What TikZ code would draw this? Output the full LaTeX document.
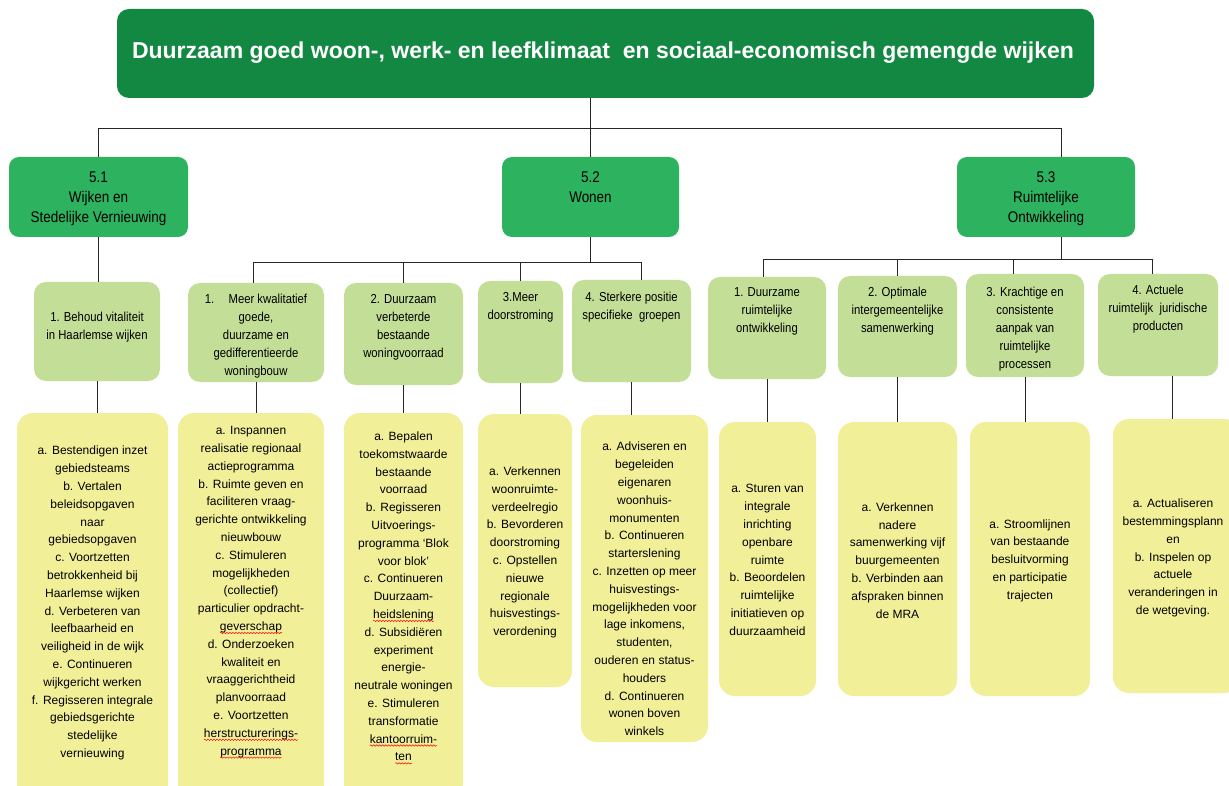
\documentclass[tikz,border=0pt]{standalone}
\usepackage{fontspec}
\setmainfont{Liberation Sans}
\newfontfamily\narrowsans[FakeStretch=0.87]{Liberation Sans}
\usepackage{tikz}
\usetikzlibrary{positioning}
\usetikzlibrary{decorations.pathmorphing}

\definecolor{topgreen}{RGB}{19,136,67}
\definecolor{subgreen}{RGB}{45,179,95}
\definecolor{goalgreen}{RGB}{195,222,151}
\definecolor{actyellow}{RGB}{242,239,153}

\newcommand{\spellwave}[1]{\tikz[baseline=(sw.base)]{\node[inner sep=0pt, outer sep=0pt] (sw) {#1};
    \draw[red, line width=0.5pt, decorate, decoration={snake, amplitude=0.7pt, segment length=3pt}]
        ([yshift=-2.5pt]sw.base west) -- ([yshift=-2.5pt]sw.base east);}}

\begin{document}
\begin{tikzpicture}[x=1pt,y=-1pt,
    conn/.style={draw=black!85, line width=0.8pt},
    topbox/.style={fill=topgreen, rounded corners=12pt, inner sep=0pt},
    subbox/.style={fill=subgreen, rounded corners=10pt, inner sep=0pt},
    goalbox/.style={fill=goalgreen, rounded corners=12pt, inner sep=0pt},
    actbox/.style={fill=actyellow, rounded corners=16pt, inner sep=0pt},
    toptxt/.style={text=white, inner sep=0pt, font=\fontsize{23}{27}\selectfont\bfseries},
    subtxt/.style={align=center, inner sep=0pt, font=\narrowsans\fontsize{15.5}{20}\selectfont},
    goaltxt/.style={align=center, inner sep=0pt, font=\narrowsans\fontsize{13}{18}\selectfont},
    acttxt/.style={align=center, inner sep=0pt, font=\fontsize{12}{17.8}\selectfont}]

            % Page
            \useasboundingbox (0,0) rectangle (1229,786);
            \clip (0,0) rectangle (1229,786);
            \fill[white] (0,0) rectangle (1229,786);

            % Top box
            \node[topbox, minimum width=977pt, minimum height=89pt] (top) at (605.5,53.5) {};
            \node[toptxt] (toptext) at (603,53) {Duurzaam goed woon-, werk- en leefklimaat~ en sociaal-economisch gemengde wijken};

            % Themes
            \node[subbox, minimum width=179pt, minimum height=80pt] (sub51) at (98.5,197) {};
            \node[subbox, minimum width=177pt, minimum height=80pt] (sub52) at (590.5,197) {};
            \node[subbox, minimum width=178pt, minimum height=80pt] (sub53) at (1046,197) {};
            \node[subtxt, below=15pt of sub51.north] (sub51txt) {5.1\\Wijken en\\Stedelijke Vernieuwing};
            \node[subtxt, below=15pt of sub52.north] (sub52txt) {5.2\\Wonen};
            \node[subtxt, below=15pt of sub53.north] (sub53txt) {5.3\\Ruimtelijke\\Ontwikkeling};

            % Goals
            \node[goalbox, minimum width=126pt, minimum height=99pt] (w1) at (97,331.5) {};
            \node[goalbox, minimum width=136pt, minimum height=99pt] (wo1) at (256,332.5) {};
            \node[goalbox, minimum width=119pt, minimum height=102pt] (wo2) at (403.5,334) {};
            \node[goalbox, minimum width=85pt, minimum height=102pt] (wo3) at (520.5,332) {};
            \node[goalbox, minimum width=119pt, minimum height=102pt] (wo4) at (631.5,331) {};
            \node[goalbox, minimum width=118pt, minimum height=102pt] (ro1) at (767,328) {};
            \node[goalbox, minimum width=119pt, minimum height=101pt] (ro2) at (897.5,326.5) {};
            \node[goalbox, minimum width=118pt, minimum height=103pt] (ro3) at (1025,325.5) {};
            \node[goalbox, minimum width=120pt, minimum height=102pt] (ro4) at (1158,325) {};

            \node[goaltxt, below=30pt of w1.north] (w1txt) {1. Behoud vitaliteit\\in Haarlemse wijken};
            \node[goaltxt, below=11pt of wo1.north] (wo1txt) {1.\hspace{1.1em}Meer kwalitatief\\goede,\\duurzame en\\gedifferentieerde\\woningbouw};
            \node[goaltxt, below=11pt of wo2.north] (wo2txt) {2. Duurzaam\\verbeterde\\bestaande\\woningvoorraad};
            \node[goaltxt, below=11pt of wo3.north] (wo3txt) {3.Meer\\doorstroming};
            \node[goaltxt, below=12pt of wo4.north] (wo4txt) {4. Sterkere positie\\specifieke~ groepen};
            \node[goaltxt, below=11pt of ro1.north] (ro1txt) {1. Duurzame\\ruimtelijke\\ontwikkeling};
            \node[goaltxt, below=11pt of ro2.north] (ro2txt) {2. Optimale\\intergemeentelijke\\samenwerking};
            \node[goaltxt, below=13pt of ro3.north] (ro3txt) {3. Krachtige en\\consistente\\aanpak van\\ruimtelijke\\processen};
            \node[goaltxt, below=11pt of ro4.north] (ro4txt) {4. Actuele\\ruimtelijk~ juridische\\producten};

            % Actions
            \node[actbox, minimum width=151pt, minimum height=387pt] (actw1) at (92.5,606.5) {};
            \node[actbox, minimum width=146pt, minimum height=387pt] (actwo1) at (251,606.5) {};
            \node[actbox, minimum width=119pt, minimum height=387pt] (actwo2) at (403.5,606.5) {};
            \node[actbox, minimum width=94pt, minimum height=273pt] (actwo3) at (525,550.5) {};
            \node[actbox, minimum width=127pt, minimum height=327pt] (actwo4) at (644.5,578.5) {};
            \node[actbox, minimum width=97pt, minimum height=274pt] (actro1) at (767.5,559) {};
            \node[actbox, minimum width=119pt, minimum height=274pt] (actro2) at (897.5,559) {};
            \node[actbox, minimum width=120pt, minimum height=274pt] (actro3) at (1030,559) {};
            \node[actbox, minimum width=127pt, minimum height=274pt] (actro4) at (1176.5,556) {};

            \node[acttxt] (actw1txt) at (92.5,603) {a. Bestendigen inzet\\gebiedsteams\\b. Vertalen\\beleidsopgaven\\naar\\gebiedsopgaven\\c. Voortzetten\\betrokkenheid bij\\Haarlemse wijken\\d. Verbeteren van\\leefbaarheid en\\veiligheid in de wijk\\e. Continueren\\wijkgericht werken\\f. Regisseren integrale\\gebiedsgerichte\\stedelijke\\vernieuwing};
            \node[acttxt] (actwo1txt) at (251,592.5) {a. Inspannen\\realisatie regionaal\\actieprogramma\\b. Ruimte geven en\\faciliteren vraag-\\gerichte ontwikkeling\\nieuwbouw\\c. Stimuleren\\mogelijkheden\\(collectief)\\particulier opdracht-\\\spellwave{geverschap}\\d. Onderzoeken\\kwaliteit en\\vraaggerichtheid\\planvoorraad\\e. Voortzetten\\\spellwave{herstructurerings-}\\\spellwave{programma}};
            \node[acttxt] (actwo2txt) at (403.5,598) {a. Bepalen\\toekomstwaarde\\bestaande\\voorraad\\b. Regisseren\\Uitvoerings-\\programma ‘Blok\\voor blok’\\c. Continueren\\Duurzaam-\\\spellwave{heidslening}\\d. Subsidiëren\\experiment\\energie-\\neutrale woningen\\e. Stimuleren\\transformatie\\\spellwave{kantoorruim-}\\\spellwave{ten}};
            \node[acttxt] (actwo3txt) at (525,552.5) {a. Verkennen\\woonruimte-\\verdeelregio\\b. Bevorderen\\doorstroming\\c. Opstellen\\nieuwe\\regionale\\huisvestings-\\verordening};
            \node[acttxt] (actwo4txt) at (644.5,589) {a. Adviseren en\\begeleiden\\eigenaren\\woonhuis-\\monumenten\\b. Continueren\\starterslening\\c. Inzetten op meer\\huisvestings-\\mogelijkheden voor\\lage inkomens,\\studenten,\\ouderen en status-\\houders\\d. Continueren\\wonen boven\\winkels};
            \node[acttxt] (actro1txt) at (767.5,560) {a. Sturen van\\integrale\\inrichting\\openbare\\ruimte\\b. Beoordelen\\ruimtelijke\\initiatieven op\\duurzaamheid};
            \node[acttxt] (actro2txt) at (897.5,560.5) {a. Verkennen\\nadere\\samenwerking vijf\\buurgemeenten\\b. Verbinden aan\\afspraken binnen\\de MRA};
            \node[acttxt] (actro3txt) at (1030,560.5) {a. Stroomlijnen\\van bestaande\\besluitvorming\\en participatie\\trajecten};
            \node[acttxt] (actro4txt) at (1173,558) {a. Actualiseren\\bestemmingsplann\\en\\b. Inspelen op\\actuele\\veranderingen in\\de wetgeving.};

            % Top level lines
            \coordinate (bus1) at (0,128);
            \coordinate (sub53in) at ([xshift=15pt]sub53.north);
            \draw[conn] (top.south -| sub52.north) -- (sub52.north);
            \draw[conn] (sub51.north) |- (sub53in |- bus1) -- (sub53in);

            % Theme to goals
            \draw[conn] (sub51.south) -- (sub51.south |- w1.north);

            \coordinate (bus2) at (0,262);
            \coordinate (wo1in) at ([xshift=-3pt]wo1.north);
            \coordinate (wo4in) at ([xshift=10pt]wo4.north);
            \draw[conn] (sub52.south) -- (sub52.south |- bus2);
            \draw[conn] (wo1in) |- (wo4in |- bus2) -- (wo4in);
            \foreach \g in {wo2,wo3}
                \draw[conn] (\g.north) -- (\g.north |- bus2);

            \coordinate (bus3) at (0,259);
            \coordinate (sub53out) at ([xshift=15pt]sub53.south);
            \coordinate (ro1in) at ([xshift=-4pt]ro1.north);
            \coordinate (ro3in) at ([xshift=-12pt]ro3.north);
            \coordinate (ro4in) at ([xshift=-6pt]ro4.north);
            \draw[conn] (sub53out) -- (sub53out |- bus3);
            \draw[conn] (ro1in) |- (ro4in |- bus3) -- (ro4in);
            \draw[conn] (ro2.north) -- (ro2.north |- bus3);
            \draw[conn] (ro3in) -- (ro3in |- bus3);

            % Goals to actions
            \foreach \g in {w1,wo1,wo2,wo3,wo4,ro1,ro2,ro3}
                \draw[conn] (\g.south) -- (\g.south |- act\g.north);
            \coordinate (ro4out) at ([xshift=14pt]ro4.south);
            \draw[conn] (ro4out) -- (ro4out |- actro4.north);
\end{tikzpicture}
\end{document}
